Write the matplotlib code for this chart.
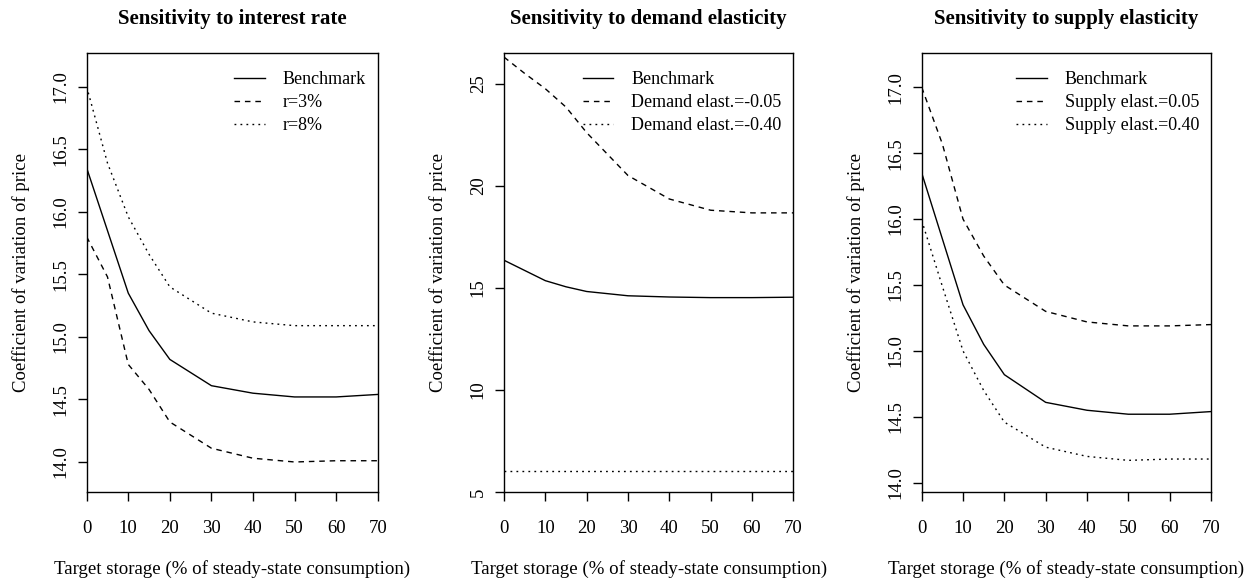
import matplotlib
matplotlib.use("Agg")
from matplotlib import pyplot as plt
import numpy as np

plt.rcParams['font.family'] = ['Liberation Serif', 'DejaVu Serif']

storage = [0, 5, 10, 15, 20, 30, 40, 50, 60, 70]

benchmark = [16.35, 15.85, 15.35, 15.05, 14.82, 14.61, 14.55, 14.52, 14.52, 14.54]

r_3 = [15.80, 15.48, 14.78, 14.58, 14.32, 14.11, 14.03, 14.00, 14.01, 14.01]
r_8 = [17.00, 16.39, 15.96, 15.66, 15.40, 15.19, 15.12, 15.09, 15.09, 15.09]

demand_005 = [26.30, 25.50, 24.75, 23.85, 22.60, 20.50, 19.35, 18.80, 18.67, 18.67]
demand_040 = [6.05, 6.05, 6.05, 6.05, 6.05, 6.05, 6.05, 6.05, 6.05, 6.05]

supply_005 = [17.00, 16.57, 16.00, 15.72, 15.50, 15.30, 15.22, 15.19, 15.19, 15.20]
supply_040 = [15.99, 15.49, 15.00, 14.70, 14.46, 14.27, 14.20, 14.17, 14.18, 14.18]

titles = ["Sensitivity to interest rate", "Sensitivity to demand elasticity",
          "Sensitivity to supply elasticity"]
labels = [["Benchmark", "r=3%", "r=8%"],
          ["Benchmark", "Demand elast.=-0.05", "Demand elast.=-0.40"],
          ["Benchmark", "Supply elast.=0.05", "Supply elast.=0.40"]]
series = [[benchmark, r_3, r_8],
          [benchmark, demand_005, demand_040],
          [benchmark, supply_005, supply_040]]
ylims = [(13.76, 17.27), (5, 26.5), (13.93, 17.26)]
yticks = [np.arange(14.0, 17.01, 0.5), [5, 10, 15, 20, 25], np.arange(14.0, 17.01, 0.5)]
yfmt = ["%.1f", "%d", "%.1f"]

fig = plt.figure(figsize=(12.53, 5.8), dpi=100)
lefts = [86.7, 504, 921.7]
widths = [291, 289.3, 289.3]

styles = [dict(linestyle='-'), dict(dashes=(4, 3.5)), dict(dashes=(1.3, 3.0))]

for i in range(3):
    ax = fig.add_axes([lefts[i] / 1253, 1 - 492 / 580, widths[i] / 1253, (492 - 53) / 580])
    for s, lab, st in zip(series[i], labels[i], styles):
        ax.plot(storage, s, color='black', lw=1.0, label=lab, **st)
    ax.set_xlim(0, 70)
    ax.set_ylim(*ylims[i])
    ax.set_xticks(range(0, 71, 10))
    ax.set_yticks(yticks[i])
    ax.set_yticklabels([yfmt[i] % v for v in yticks[i]], rotation=90, va='center')
    ax.tick_params(direction='out', length=6.5, width=1.0, labelsize=13.5, pad=14)
    ax.tick_params(axis='y', pad=6)
    for sp in ax.spines.values():
        sp.set_linewidth(1.0)
    ax.set_title(titles[i], fontsize=15, fontweight='bold', pad=21)
    ax.set_xlabel("Target storage (% of steady-state consumption)", fontsize=13.6, labelpad=16)
    ax.set_ylabel("Coefficient of variation of price", fontsize=13.5, labelpad=16)
    ax.legend(loc='upper right', frameon=False, fontsize=13, handlelength=1.7,
              handletextpad=1.0, labelspacing=0.32, borderaxespad=0.25,
              bbox_to_anchor=(1.0, 0.985))

plt.savefig("out.png", dpi=100)
